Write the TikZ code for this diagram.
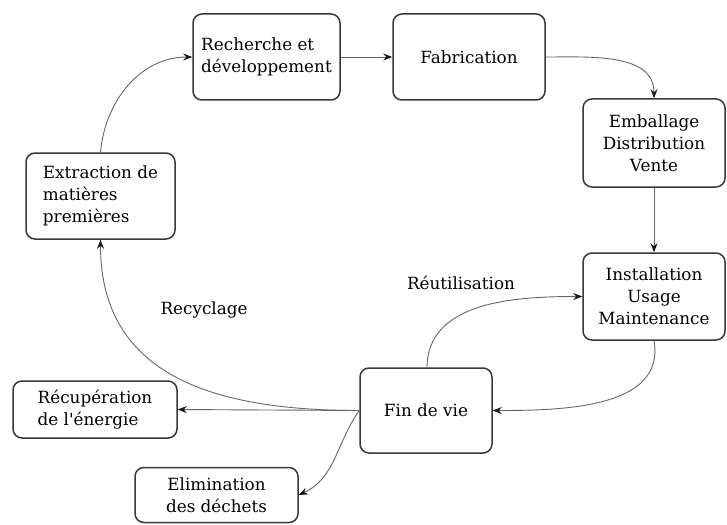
\documentclass[tikz,border=0pt]{standalone}
\usepackage{fontspec}
\setmainfont{DejaVu Serif}[Ligatures=TeXOff]
\usetikzlibrary{arrows.meta}
\begin{document}
\begin{tikzpicture}[x=1pt,y=-1pt,
 box/.style={draw=black!78,line width=1.5pt,rounded corners=9pt,fill=white,inner sep=0pt,text=black,font=\fontsize{16.8}{22}\selectfont},
 conn/.style={draw=black!60,line width=0.9pt,-{Stealth[length=9pt,width=7pt,color=black!90]}},
 lbl/.style={text=black,font=\fontsize{16.8}{22}\selectfont}]
\useasboundingbox (0,0) rectangle (727,524);
\node[box,minimum width=147pt,minimum height=86pt,align=left] (rd) at (266.5,57) {Recherche et\\développement};
\node[box,minimum width=152pt,minimum height=86pt] (fab) at (469,57) {Fabrication};
\node[box,minimum width=142pt,minimum height=88pt,align=center] (emb) at (654,143) {Emballage\\Distribution\\Vente};
\node[box,minimum width=142pt,minimum height=87pt,align=center] (ins) at (654,296.5) {Installation\\Usage\\Maintenance};
\node[box,minimum width=149pt,minimum height=86pt,align=left] (ext) at (100.5,196) {Extraction de\\matières\\premières};
\node[box,minimum width=164pt,minimum height=57pt,align=left] (rec) at (95,409.5) {Récupération\\de l'énergie};
\node[box,minimum width=163pt,minimum height=55pt,align=center] (eli) at (216.5,495) {Elimination\\des déchets};
\node[box,minimum width=132pt,minimum height=85pt] (fin) at (426,410.5) {Fin de vie};
\node[lbl] (reu) at (461,283) {Réutilisation};
\node[lbl] (recy) at (204,310) {Recyclage};
\coordinate (finT) at (427,368);
\draw[conn] (ext.north) to[out=85,in=180] (rd.west);
\draw[conn] (rd.east) -- (fab.west);
\draw[conn] (fab.east) to[out=0,in=90] (emb.north);
\draw[conn] (emb.south) -- (ins.north);
\draw[conn] (ins.south) to[out=-80,in=0] (fin.east);
\draw[conn] (finT) to[out=90,in=180] (ins.west);
\draw[conn] (fin.west) -- (rec.east);
\draw[conn] (fin.west) to[out=180,in=-90,looseness=1.15] (ext.south);
\draw[conn] (fin.west) to[out=235,in=25] (eli.east);
\end{tikzpicture}
\end{document}
